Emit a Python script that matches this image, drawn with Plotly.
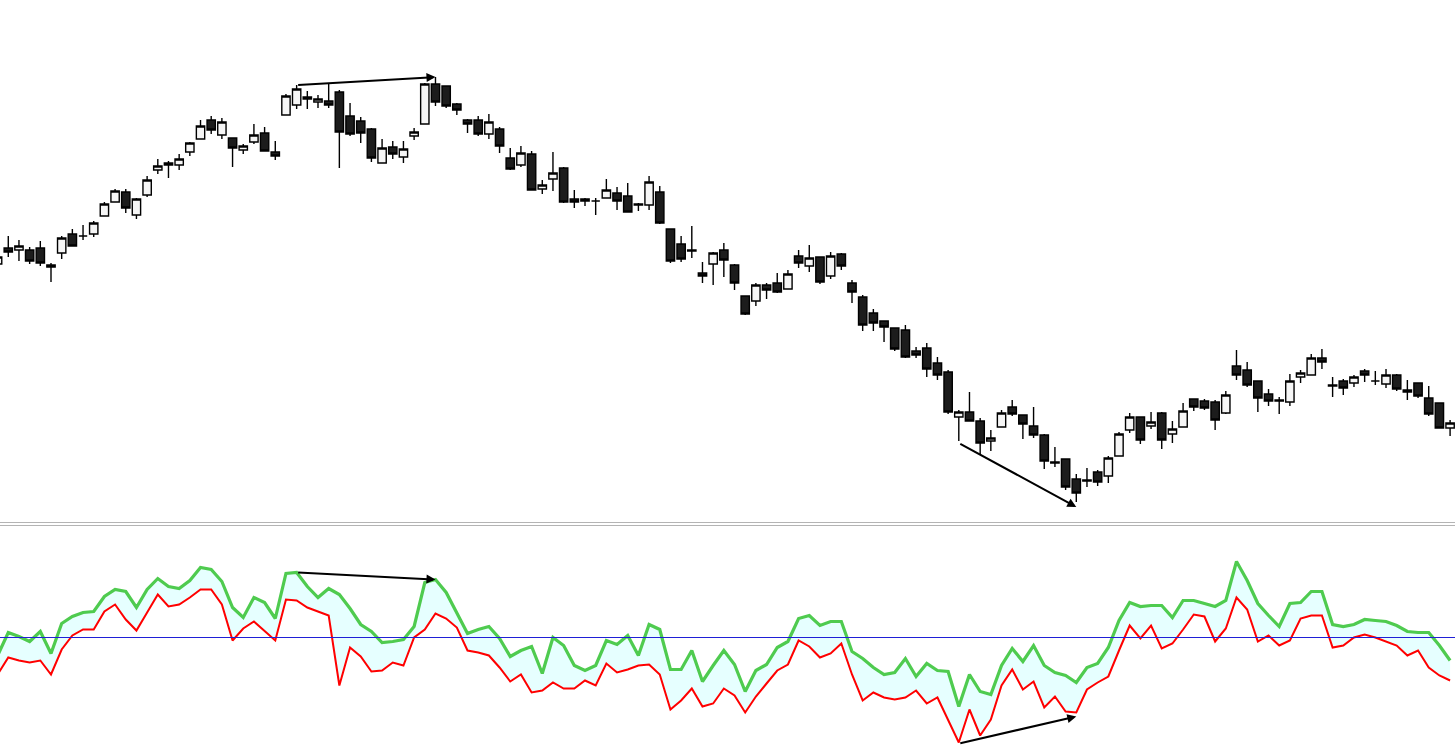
import plotly.graph_objects as go

# ---------------- price panel (OHLC) ----------------
opens = [336, 352, 350, 350, 352, 335, 347, 366, 364, 366,
         384, 398, 408, 385, 405, 430, 435, 435, 448, 461,
         480, 465, 462, 450, 458, 467, 448, 485, 495, 501,
         498, 499, 508, 484, 479, 471, 437, 453, 443, 464,
         476, 516, 514, 496, 480, 480, 466, 471, 442, 435,
         446, 411, 421, 432, 401, 399, 399, 402, 407, 404,
         396, 395, 408, 371, 356, 350, 327, 336, 350, 335,
         304, 299, 315, 317, 311, 344, 334, 343, 324, 346,
         317, 303, 287, 279, 272, 270, 249, 252, 237, 228,
         183, 188, 179, 159, 173, 193, 185, 174, 165, 138,
         141, 121, 120, 128, 124, 144, 170, 183, 174, 187,
         166, 173, 201, 199, 198, 187, 234, 230, 219, 206,
         200, 198, 223, 225, 242, 215, 219, 217, 229, 219,
         216, 225, 208, 217, 202, 197, 172]
highs = [346, 364, 360, 353, 359, 337, 364, 371, 375, 379,
         398, 411, 411, 402, 424, 441, 439, 446, 458, 480,
         484, 482, 462, 456, 476, 473, 459, 506, 515, 509,
         505, 516, 510, 497, 483, 472, 461, 459, 459, 472,
         517, 523, 514, 497, 481, 484, 486, 473, 452, 454,
         449, 420, 448, 433, 410, 402, 402, 421, 413, 417,
         397, 424, 414, 371, 364, 374, 338, 348, 357, 336,
         304, 317, 317, 327, 330, 350, 355, 343, 348, 347,
         320, 305, 291, 279, 272, 275, 253, 257, 243, 230,
         190, 208, 182, 170, 190, 200, 185, 193, 166, 153,
         141, 126, 132, 130, 144, 168, 187, 183, 188, 188,
         179, 197, 201, 201, 200, 209, 250, 238, 219, 211,
         203, 226, 230, 246, 251, 223, 221, 225, 231, 229,
         231, 226, 220, 217, 214, 197, 180]
lows = [334, 343, 339, 336, 334, 318, 341, 354, 360, 363,
        384, 398, 387, 381, 403, 426, 422, 430, 444, 461,
        466, 461, 433, 446, 456, 449, 440, 485, 491, 491,
        492, 492, 432, 464, 457, 438, 437, 441, 437, 460,
        476, 494, 492, 485, 467, 464, 461, 447, 430, 433,
        410, 406, 409, 397, 392, 394, 385, 402, 390, 388,
        389, 390, 376, 337, 338, 342, 317, 315, 323, 310,
        285, 294, 301, 307, 311, 332, 328, 316, 321, 330,
        297, 269, 269, 258, 249, 242, 242, 223, 220, 186,
        159, 179, 146, 149, 173, 184, 161, 162, 131, 133,
        110, 98, 113, 114, 117, 144, 167, 156, 171, 151,
        157, 173, 189, 190, 170, 186, 220, 213, 188, 194,
        186, 194, 217, 225, 231, 203, 205, 213, 218, 215,
        212, 209, 200, 202, 184, 172, 164]
closes = [343, 348, 354, 339, 337, 333, 362, 354, 364, 377,
          396, 409, 392, 401, 420, 434, 437, 441, 457, 474,
          470, 478, 452, 454, 465, 449, 444, 504, 511, 503,
          501, 495, 468, 466, 467, 442, 452, 446, 451, 468,
          516, 498, 494, 490, 476, 466, 478, 454, 431, 447,
          410, 415, 427, 398, 398, 401, 399, 410, 399, 388,
          395, 418, 377, 339, 341, 349, 324, 347, 340, 317,
          286, 315, 310, 308, 326, 337, 342, 318, 344, 334,
          308, 275, 277, 273, 251, 243, 245, 231, 225, 188,
          188, 179, 157, 162, 187, 186, 176, 165, 139, 137,
          113, 107, 119, 118, 142, 166, 183, 160, 178, 160,
          171, 189, 193, 192, 180, 205, 225, 215, 202, 199,
          199, 219, 227, 242, 238, 214, 212, 223, 225, 219,
          225, 211, 210, 204, 186, 172, 177]

# ---------------- oscillator panel ----------------
osc_fast = [-18, 5, 1, -4, 6, -16, 14, 21, 25, 26,
            41, 48, 46, 30, 48, 59, 51, 49, 57, 70,
            68, 56, 30, 20, 40, 35, 19, 64, 65, 51,
            40, 49, 43, 29, 13, 6, -5, -4, -2, 11,
            55, 58, 45, 25, 4, 8, 11, -1, -19, -13,
            -9, -36, 0, -8, -28, -33, -28, -3, -7, 2,
            -18, 13, 8, -32, -32, -13, -44, -28, -13, -27,
            -54, -33, -27, -10, -4, 19, 22, 12, 16, 16,
            -14, -21, -30, -37, -35, -21, -39, -26, -33, -34,
            -69, -37, -54, -57, -28, -11, -24, -8, -28, -35,
            -38, -45, -30, -26, -10, 17, 35, 31, 32, 32,
            20, 37, 37, 34, 31, 37, 76, 57, 34, 22,
            11, 34, 35, 46, 46, 13, 11, 13, 18, 17,
            16, 12, 6, 5, 5, -8, -23]
osc_slow = [-37, -20, -23, -25, -23, -37, -12, 2, 8, 8,
            26, 33, 18, 7, 25, 43, 31, 33, 40, 48,
            48, 33, -3, 9, 16, 6, -3, 38, 37, 30,
            26, 22, -48, -10, -19, -34, -33, -25, -28, 0,
            8, 24, 19, 10, -13, -15, -18, -30, -44, -37,
            -55, -53, -45, -51, -51, -43, -48, -26, -35, -32,
            -28, -27, -37, -72, -63, -51, -69, -66, -51, -58,
            -75, -59, -46, -33, -27, -3, -9, -20, -16, -6,
            -37, -63, -55, -60, -62, -60, -53, -66, -60, -83,
            -105, -72, -98, -82, -48, -32, -52, -44, -70, -59,
            -74, -75, -52, -45, -39, -13, 12, -1, 12, -11,
            -6, 8, 23, 21, -4, 9, 40, 28, -4, 2,
            -8, -3, 19, 22, 22, -10, -8, 0, 3, 0,
            -4, -8, -18, -13, -30, -38, -43]
zero_level = 0

# divergence arrows: (from bar, to bar)
divergences = [(28, 41), (90, 101)]

bars = list(range(len(opens)))

fig = go.Figure()

fig.add_trace(go.Candlestick(
    x=bars, open=opens, high=highs, low=lows, close=closes,
    increasing=dict(line=dict(color="#000000", width=1.4), fillcolor="#f6f6f6"),
    decreasing=dict(line=dict(color="#000000", width=1.4), fillcolor="#1c1c1c"),
    whiskerwidth=0, hoverinfo="skip", showlegend=False,
    xaxis="x", yaxis="y"))

fig.add_trace(go.Scatter(
    x=bars, y=osc_slow, mode="lines", line=dict(color="#ff0000", width=2),
    hoverinfo="skip", showlegend=False, xaxis="x2", yaxis="y2"))
fig.add_trace(go.Scatter(
    x=bars, y=osc_fast, mode="lines", line=dict(color="#4fcb4f", width=3.2),
    fill="tonexty", fillcolor="#e6ffff",
    hoverinfo="skip", showlegend=False, xaxis="x2", yaxis="y2"))
fig.add_trace(go.Scatter(
    x=[bars[0] - 1, bars[-1] + 1], y=[zero_level, zero_level], mode="lines",
    line=dict(color="#1f1fd6", width=1), hoverinfo="skip", showlegend=False,
    xaxis="x2", yaxis="y2"))

# arrows
arrow_style = dict(showarrow=True, arrowhead=2, arrowsize=0.9, arrowwidth=2,
                   arrowcolor="#000000", text="", standoff=0, startstandoff=0)
(a0, a1), (b0, b1) = divergences
annotations = [
    dict(x=a1, y=highs[a1], ax=a0, ay=highs[a0], xref="x", yref="y",
         axref="x", ayref="y", **arrow_style),
    dict(x=b1, y=lows[b1] - 5, ax=b0, ay=lows[b0] - 2, xref="x", yref="y",
         axref="x", ayref="y", **arrow_style),
    dict(x=a1, y=osc_fast[a1], ax=a0, ay=osc_fast[a0], xref="x2", yref="y2",
         axref="x2", ayref="y2", **arrow_style),
    dict(x=b1, y=osc_slow[b1] - 4, ax=b0, ay=osc_slow[b0] - 1, xref="x2", yref="y2",
         axref="x2", ayref="y2", **arrow_style),
]

H = 752
xr = [0.2247, 136.46]
hidden = dict(visible=False, showgrid=False, zeroline=False)
fig.update_layout(
    width=1455, height=H, margin=dict(l=0, r=0, t=0, b=0),
    paper_bgcolor="#ffffff", plot_bgcolor="#ffffff",
    boxgap=0.22, boxgroupgap=0,
    xaxis=dict(domain=[0, 1], range=xr, anchor="y", rangeslider=dict(visible=False), **hidden),
    yaxis=dict(domain=[1 - 522 / H, 1], range=[78, 600], anchor="x", **hidden),
    xaxis2=dict(domain=[0, 1], range=xr, anchor="y2", **hidden),
    yaxis2=dict(domain=[0, 1 - 525 / H], range=[-114.5, 112.5], anchor="x2", **hidden),
    annotations=annotations,
    shapes=[
        dict(type="line", xref="paper", yref="paper", x0=0, x1=1,
             y0=1 - 522.5 / H, y1=1 - 522.5 / H, line=dict(color="#b4b4b4", width=1)),
        dict(type="line", xref="paper", yref="paper", x0=0, x1=1,
             y0=1 - 525.5 / H, y1=1 - 525.5 / H, line=dict(color="#b4b4b4", width=1)),
    ],
)

fig.write_html("out.html", config={"displayModeBar": False},
               post_script="document.body.style.margin='0';document.body.style.overflow='hidden';")
